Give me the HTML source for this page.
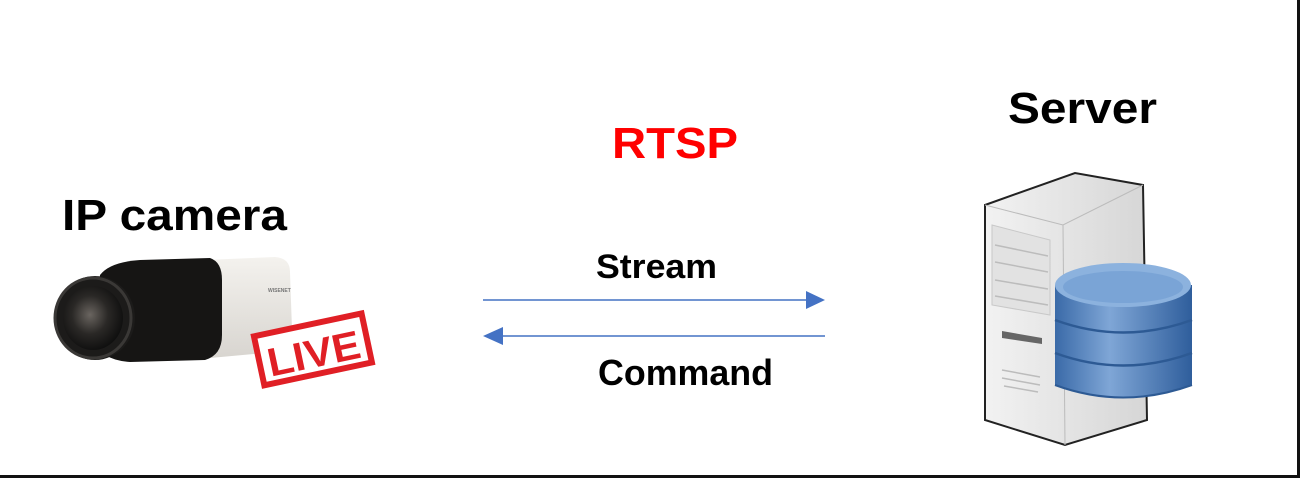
<!DOCTYPE html>
<html><head><meta charset="utf-8"><style>
html,body{margin:0;padding:0;background:#fff;}
svg{display:block;}
text{font-family:"Liberation Sans",Arial,sans-serif;font-weight:bold;}
</style></head><body>
<svg width="1300" height="478" viewBox="0 0 1300 478" xmlns="http://www.w3.org/2000/svg">
<defs>
<linearGradient id="body" x1="0" y1="0" x2="0" y2="1"><stop offset="0" stop-color="#f4f2ee"/><stop offset="1" stop-color="#d8d5d0"/></linearGradient>
<radialGradient id="lens" cx="0.45" cy="0.45" r="0.6"><stop offset="0" stop-color="#6a6560"/><stop offset="0.5" stop-color="#2a2826"/><stop offset="1" stop-color="#0c0c0c"/></radialGradient>
<linearGradient id="tower" x1="0" y1="0" x2="1" y2="0"><stop offset="0" stop-color="#f2f2f2"/><stop offset="1" stop-color="#d6d6d6"/></linearGradient>
<linearGradient id="db" x1="0" y1="0" x2="1" y2="0"><stop offset="0" stop-color="#3a6aa8"/><stop offset="0.4" stop-color="#7fa6d6"/><stop offset="1" stop-color="#2f5e9c"/></linearGradient>
</defs>
<rect x="0" y="0" width="1300" height="478" fill="#fff"/>
<rect x="1297" y="0" width="3" height="478" fill="#111"/>
<rect x="0" y="475" width="1300" height="3" fill="#111"/>

<text x="62" y="230" font-size="44" fill="#000" textLength="225" lengthAdjust="spacingAndGlyphs">IP camera</text>
<text x="612" y="158" font-size="44" fill="#ff0000" textLength="126" lengthAdjust="spacingAndGlyphs">RTSP</text>
<text x="1008" y="123" font-size="44" fill="#000" textLength="149" lengthAdjust="spacingAndGlyphs">Server</text>
<text x="596" y="278" font-size="34" fill="#000" textLength="121" lengthAdjust="spacingAndGlyphs">Stream</text>
<text x="598" y="385" font-size="36" fill="#000" textLength="175" lengthAdjust="spacingAndGlyphs">Command</text>

<!-- arrows -->
<line x1="483" y1="300" x2="808" y2="300" stroke="#4472c4" stroke-width="1.5"/>
<polygon points="825,300 806,291 806,309" fill="#4472c4"/>
<line x1="500" y1="336" x2="825" y2="336" stroke="#4472c4" stroke-width="1.5"/>
<polygon points="483,336 503,327 503,345" fill="#4472c4"/>

<!-- camera -->
<path d="M205,260 L275,257 Q290,258 290,272 L292,330 Q292,350 276,352 L210,358 Z" fill="url(#body)"/>
<path d="M100,275 Q110,262 140,260 L210,258 Q222,262 222,280 L222,335 Q222,355 205,360 L130,362 Q100,360 95,340 Z" fill="#161514"/>
<ellipse cx="95" cy="318" rx="40" ry="42" fill="#1c1b1a"/>
<ellipse cx="93" cy="318" rx="30" ry="32" fill="url(#lens)"/>
<ellipse cx="93" cy="318" rx="38" ry="40" fill="none" stroke="#3a3836" stroke-width="3"/>
<text x="268" y="292" font-size="5" fill="#777">WISENET</text>

<!-- LIVE stamp -->
<g transform="rotate(-12 310 350)">
<rect x="258" y="325" width="110" height="50" fill="#fff" stroke="#e01f25" stroke-width="6"/>
<text x="266" y="368" font-size="40" fill="#e01f25" textLength="94" lengthAdjust="spacingAndGlyphs">LIVE</text>
</g>

<!-- server tower -->
<path d="M985,205 L1075,173 L1143,185 L1147,420 L1065,445 L985,420 Z" fill="url(#tower)" stroke="#222" stroke-width="2"/>
<path d="M985,205 L1063,225 L1143,185" fill="none" stroke="#bbb" stroke-width="1"/>
<path d="M1063,225 L1065,445" stroke="#bbb" stroke-width="1"/>
<path d="M992,225 L1050,240 L1050,315 L992,305 Z" fill="#e2e2e2" stroke="#c8c8c8"/>
<g stroke="#bcbcbc" stroke-width="1.5">
<line x1="995" y1="245" x2="1048" y2="256"/><line x1="995" y1="262" x2="1048" y2="272"/>
<line x1="995" y1="280" x2="1048" y2="289"/><line x1="995" y1="296" x2="1048" y2="305"/>
<line x1="1002" y1="370" x2="1040" y2="377"/><line x1="1002" y1="378" x2="1040" y2="385"/>
<line x1="1004" y1="386" x2="1038" y2="392"/>
</g>
<path d="M1002,331 L1042,338 L1042,344 L1002,338 Z" fill="#666"/>

<!-- database -->
<path d="M1055,285 L1055,385 Q1123,410 1192,385 L1192,285 Z" fill="url(#db)"/>
<ellipse cx="1123" cy="285" rx="68" ry="22" fill="#8cb2de"/>
<ellipse cx="1123" cy="287" rx="60" ry="16" fill="#7aa4d6"/>
<path d="M1055,320 Q1123,345 1192,320" fill="none" stroke="#2d5a94" stroke-width="2.5"/>
<path d="M1055,353 Q1123,378 1192,353" fill="none" stroke="#2d5a94" stroke-width="2.5"/>
<path d="M1055,385 Q1123,410 1192,385" fill="none" stroke="#2d5a94" stroke-width="2"/>
</svg>
</body></html>
